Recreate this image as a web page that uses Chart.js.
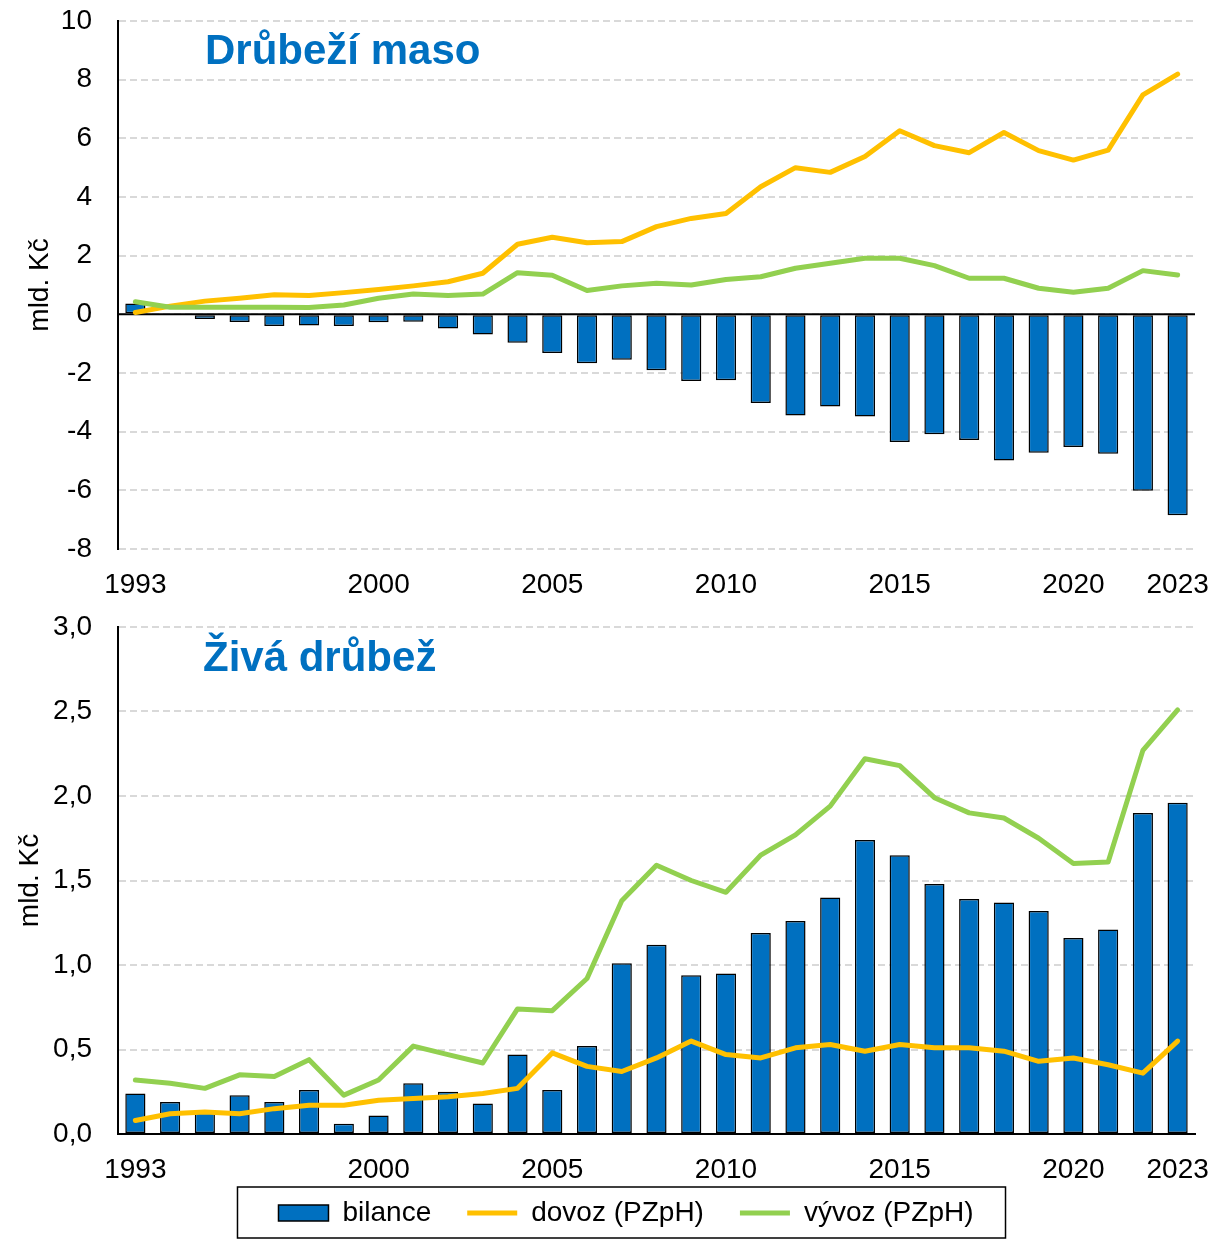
<!DOCTYPE html>
<html lang="cs">
<head>
<meta charset="utf-8">
<title>Drůbeží maso a živá drůbež</title>
<script src="https://cdn.jsdelivr.net/npm/chart.js@4/dist/chart.umd.min.js"></script>
<style>
  html, body { margin: 0; padding: 0; background: #fff; overflow: hidden; }
  #wrap { position: relative; width: 1215px; height: 1240px; }
  #c1 { position: absolute; left: 0; top: 0; }
  #c2 { position: absolute; left: 0; top: 605px; }
</style>
</head>
<body>
<div id="wrap">
  <canvas id="c1" width="1215" height="605"></canvas>
  <canvas id="c2" width="1215" height="637"></canvas>
</div>
<script>
// ---- data ----
const years = ['1993','1994','1995','1996','1997','1998','1999','2000','2001','2002','2003','2004','2005','2006','2007','2008','2009','2010','2011','2012','2013','2014','2015','2016','2017','2018','2019','2020','2021','2022','2023'];
const shownYears = ['1993','2000','2005','2010','2015','2020','2023'];

const seriesNames = ['bilance', 'dovoz (PZpH)', 'vývoz (PZpH)'];
const panelTitles = ['Drůbeží maso', 'Živá drůbež'];
const axisTitle = 'mld. Kč';

// Drůbeží maso
const meatBalance = [0.37, -0.03, -0.16, -0.26, -0.40, -0.38, -0.40, -0.27, -0.25, -0.48, -0.69, -0.97, -1.32, -1.67, -1.55, -1.91, -2.27, -2.25, -3.02, -3.45, -3.14, -3.48, -4.35, -4.09, -4.28, -4.98, -4.72, -4.52, -4.75, -6.01, -6.85];
const meatImport  = [0.06, 0.28, 0.45, 0.55, 0.67, 0.64, 0.74, 0.85, 0.97, 1.11, 1.40, 2.39, 2.63, 2.44, 2.48, 2.99, 3.27, 3.44, 4.35, 5.00, 4.84, 5.38, 6.26, 5.75, 5.51, 6.20, 5.58, 5.26, 5.60, 7.48, 8.19];
const meatExport  = [0.43, 0.24, 0.24, 0.24, 0.24, 0.23, 0.32, 0.55, 0.69, 0.64, 0.69, 1.42, 1.33, 0.81, 0.97, 1.06, 1.00, 1.19, 1.28, 1.57, 1.74, 1.91, 1.91, 1.66, 1.23, 1.23, 0.89, 0.75, 0.89, 1.49, 1.34];

// Živá drůbež
const liveBalance = [0.24, 0.19, 0.14, 0.23, 0.19, 0.26, 0.06, 0.11, 0.30, 0.25, 0.18, 0.47, 0.26, 0.52, 1.01, 1.12, 0.94, 0.95, 1.19, 1.26, 1.40, 1.74, 1.65, 1.48, 1.39, 1.37, 1.32, 1.16, 1.21, 1.90, 1.96];
const liveImport  = [0.08, 0.12, 0.13, 0.12, 0.15, 0.17, 0.17, 0.20, 0.21, 0.22, 0.24, 0.27, 0.48, 0.40, 0.37, 0.45, 0.55, 0.47, 0.45, 0.51, 0.53, 0.49, 0.53, 0.51, 0.51, 0.49, 0.43, 0.45, 0.41, 0.36, 0.55];
const liveExport  = [0.32, 0.30, 0.27, 0.35, 0.34, 0.44, 0.23, 0.32, 0.52, 0.47, 0.42, 0.74, 0.73, 0.92, 1.38, 1.59, 1.50, 1.43, 1.65, 1.77, 1.94, 2.22, 2.18, 1.99, 1.90, 1.87, 1.75, 1.60, 1.61, 2.27, 2.51];

// ---- styles ----
const BLUE = '#0070C0', YELLOW = '#FFC000', GREEN = '#92D050';
const FONT = "'Liberation Sans', Arial, Helvetica, sans-serif";
Chart.defaults.font.family = FONT;
Chart.defaults.font.size = 28;
Chart.defaults.color = '#000';

function makeDatasets(bal, imp, exp) {
  return [
    { type: 'bar', label: seriesNames[0], data: bal, backgroundColor: BLUE, borderColor: '#000',
      borderWidth: 1.5, borderSkipped: false, barPercentage: 0.58, categoryPercentage: 1, order: 3, pointStyle: 'rect' },
    { type: 'line', label: seriesNames[1], data: imp, borderColor: YELLOW, backgroundColor: YELLOW,
      borderWidth: 5, pointRadius: 0, tension: 0, borderCapStyle: 'round', borderJoinStyle: 'round', order: 2, pointStyle: 'line' },
    { type: 'line', label: seriesNames[2], data: exp, borderColor: GREEN, backgroundColor: GREEN,
      borderWidth: 5, pointRadius: 0, tension: 0, borderCapStyle: 'round', borderJoinStyle: 'round', order: 1, pointStyle: 'line' }
  ];
}

// panel title drawn inside plot
const panelTitlePlugin = {
  id: 'panelTitle',
  afterDraw(chart, args, opts) {
    const ctx = chart.ctx;
    ctx.save();
    ctx.font = 'bold 42px ' + FONT;
    ctx.fillStyle = BLUE;
    ctx.textBaseline = 'alphabetic';
    ctx.textAlign = 'left';
    ctx.fillText(opts.text, opts.x, opts.y);
    ctx.restore();
  }
};

// zero line (horizontal axis crossing at 0)
const zeroLinePlugin = {
  id: 'zeroLine',
  beforeDatasetsDraw(chart, args, opts) {
    if (!opts.show) return;
    const y = chart.scales.y.getPixelForValue(0);
    const ctx = chart.ctx;
    ctx.save();
    ctx.strokeStyle = '#000';
    ctx.lineWidth = 2;
    ctx.beginPath();
    ctx.moveTo(chart.chartArea.left, y);
    ctx.lineTo(chart.chartArea.right, y);
    ctx.stroke();
    ctx.restore();
  }
};

// let the y axis box start at the canvas edge (title / labels placement)
const yLeftPlugin = {
  id: 'yLeft',
  afterLayout(chart, args, opts) {
    if (opts.fix) chart.scales.y.left = 0;
  }
};

// frame around legend
const legendFramePlugin = {
  id: 'legendFrame',
  afterDraw(chart, args, opts) {
    if (!opts.show || !chart.legend || !chart.legend.legendHitBoxes) return;
    const hb = chart.legend.legendHitBoxes;
    const first = hb[0], last = hb[hb.length - 1];
    const cy = first.top + first.height / 2;
    const ctx = chart.ctx;
    ctx.save();
    ctx.strokeStyle = '#000';
    ctx.lineWidth = 1.5;
    ctx.strokeRect(first.left - 41, cy - 26, (last.left + last.width) - first.left + 41 + 32, 51);
    ctx.restore();
  }
};

function xScale(h, borderShow, mirror, pad) {
  return {
    grid: { display: false, drawTicks: false },
    border: { display: borderShow, color: '#000', width: 2 },
    ticks: {
      autoSkip: false, maxRotation: 0, minRotation: 0, padding: pad, mirror: mirror,
      callback: function (value) {
        const lab = this.getLabelForValue(value);
        return shownYears.includes(lab) ? lab : '';
      }
    },
    afterFit: s => { s.height = h; s.paddingLeft = 0; s.paddingRight = 0; }
  };
}

function yScale(min, max, step, width, titlePad, fmt) {
  return {
    min: min, max: max,
    grid: { color: '#D9D9D9', lineWidth: 2, drawTicks: false },
    border: { display: true, color: '#000', width: 2, dash: [7, 4] },
    ticks: { stepSize: step, padding: 26, callback: fmt },
    title: { display: true, text: axisTitle, padding: { top: titlePad, bottom: 0 } },
    afterFit: s => { s.width = width; s.paddingTop = 0; s.paddingBottom = 0; }
  };
}

// ---- top chart ----
new Chart(document.getElementById('c1'), {
  type: 'bar',
  data: { labels: years, datasets: makeDatasets(meatBalance, meatImport, meatExport) },
  options: {
    responsive: false, animation: false, devicePixelRatio: 1,
    layout: { padding: { top: 21, right: 20, left: 0, bottom: 0 } },
    scales: {
      x: xScale(56, false, false, 19),
      y: yScale(-8, 10, 2, 118, 23, v => String(v))
    },
    plugins: {
      legend: { display: false },
      tooltip: { enabled: false },
      panelTitle: { text: panelTitles[0], x: 205, y: 64 },
      zeroLine: { show: true },
      yLeft: { fix: false },
      legendFrame: { show: false }
    }
  },
  plugins: [panelTitlePlugin, zeroLinePlugin, yLeftPlugin, legendFramePlugin]
});

// ---- bottom chart ----
new Chart(document.getElementById('c2'), {
  type: 'bar',
  data: { labels: years, datasets: makeDatasets(liveBalance, liveImport, liveExport) },
  options: {
    responsive: false, animation: false, devicePixelRatio: 1,
    layout: { padding: { top: 22, right: 20, left: 57, bottom: 5 } },
    scales: {
      x: xScale(29, true, true, -53),
      y: yScale(0, 3, 0.5, 61, 13, v => Number(v).toFixed(1).replace('.', ','))
    },
    plugins: {
      legend: {
        display: true, position: 'bottom',
        labels: {
          usePointStyle: true, pointStyleWidth: 50, boxHeight: 16, padding: 36,
          font: { size: 28 }, color: '#000',
          sort: (a, b) => a.datasetIndex - b.datasetIndex
        }
      },
      tooltip: { enabled: false },
      panelTitle: { text: panelTitles[1], x: 203, y: 66 },
      zeroLine: { show: false },
      yLeft: { fix: true },
      legendFrame: { show: true }
    }
  },
  plugins: [panelTitlePlugin, zeroLinePlugin, yLeftPlugin, legendFramePlugin]
});
</script>
</body>
</html>
